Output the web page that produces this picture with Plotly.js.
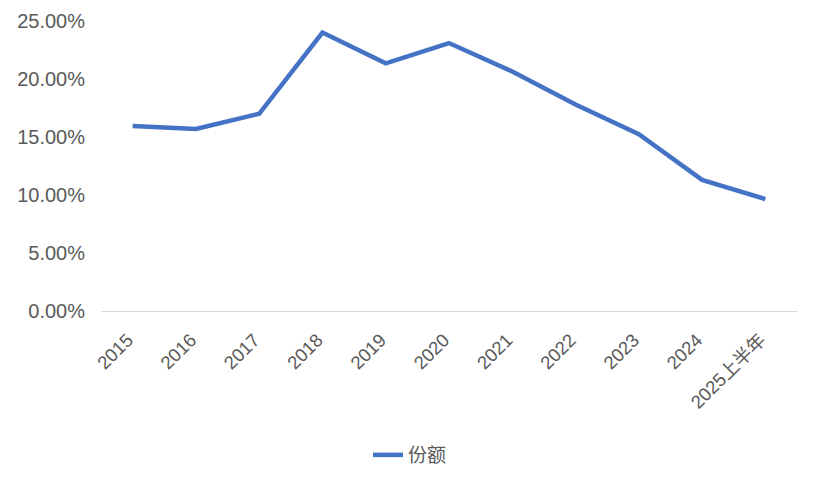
<!DOCTYPE html>
<html>
<head>
<meta charset="utf-8">
<script src="https://cdn.plot.ly/plotly-3.0.1.min.js"></script>
<style>
  html, body { margin: 0; padding: 0; background: #fff; }
  #chart { width: 820px; height: 482px; }
</style>
</head>
<body>
<div id="chart"></div>
<script>
// 份额 by year (percent)
const years = ['2015', '2016', '2017', '2018', '2019', '2020', '2021', '2022', '2023', '2024', '2025上半年'];
const share = [15.95, 15.7, 17.0, 24.0, 21.35, 23.1, 20.65, 17.8, 15.25, 11.3, 9.65];
const yTicks = [0, 5, 10, 15, 20, 25];

const font = '"Liberation Sans", Arial, "Noto Sans CJK SC", sans-serif';
const grey = '#595959';

Plotly.newPlot('chart', [{
    type: 'scatter', mode: 'lines', name: '份额',
    x: years, y: share,
    line: { color: '#4472C4', width: 4.5 },
}], {
    width: 820, height: 482,
    paper_bgcolor: '#fff', plot_bgcolor: '#fff',
    font: { family: font, color: grey, size: 18 },
    margin: { l: 101, r: 23, t: 21, b: 171 },
    xaxis: {
        type: 'category', range: [-0.5, years.length - 0.5],
        showgrid: false, zeroline: false,
        showline: true, linecolor: '#d9d9d9', linewidth: 1,
        ticks: '', tickangle: -45,
        ticklabelstandoff: 10, ticklabelshift: -5,
        tickfont: { size: 18.5, color: grey },
    },
    yaxis: {
        range: [0, 25], tickvals: yTicks,
        ticktext: yTicks.map(v => v.toFixed(2) + '%'),
        showgrid: false, zeroline: false, showline: false,
        ticks: '', ticklabelstandoff: 15,
        tickfont: { size: 20, color: grey },
    },
    showlegend: true,
    legend: {
        orientation: 'h', xref: 'container', yref: 'container',
        x: 0.5, xanchor: 'center', y: 0.056, yanchor: 'middle',
        font: { size: 19, color: grey },
    },
}, { displayModeBar: false, staticPlot: true });
</script>
</body>
</html>
